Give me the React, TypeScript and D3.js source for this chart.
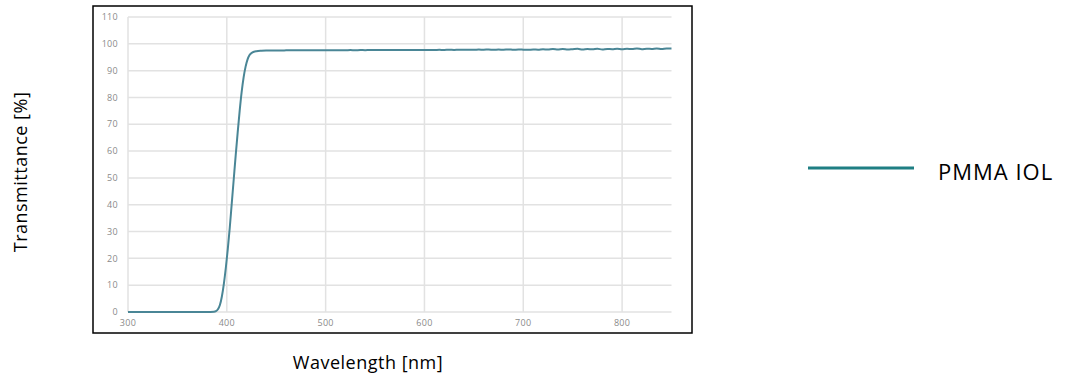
import * as d3 from 'd3'

// rise of the transmission edge (nm / %)
const riseNm = [300, 350, 380, 387, 389, 391, 393, 395, 397, 399, 401, 403, 405, 407, 409, 411, 413, 415, 417, 419, 421, 423, 426, 430, 435, 441, 450]
const riseT = [0, 0, 0, 0.1, 0.3, 1.0, 2.6, 5.8, 10.5, 16.5, 23.5, 31.5, 40.5, 49.5, 58.5, 67, 75, 82, 87.5, 91.5, 94.2, 95.8, 96.8, 97.25, 97.42, 97.5, 97.55]

// plateau sampled every 5 nm from 455 to 850
const plateauNm = d3.range(455, 851, 5)
const plateauT = [
  97.55, 97.56, 97.58, 97.57, 97.6, 97.58, 97.61, 97.6, 97.62, 97.6,
  97.63, 97.61, 97.64, 97.62, 97.65, 97.63, 97.66, 97.64, 97.67, 97.65,
  97.68, 97.66, 97.7, 97.67, 97.71, 97.69, 97.72, 97.7, 97.73, 97.71,
  97.74, 97.7, 97.76, 97.72, 97.78, 97.73, 97.8, 97.75, 97.82, 97.76,
  97.84, 97.78, 97.9, 97.76, 97.85, 97.8, 97.92, 97.78, 97.88, 97.82,
  97.75, 97.9, 97.8, 98.0, 97.85, 98.05, 97.9, 98.1, 97.88, 98.0,
  98.12, 97.9, 98.05, 97.95, 98.15, 97.9, 98.1, 98.0, 98.2, 97.95,
  98.12, 98.05, 98.25, 98.0, 98.18, 98.1, 98.3, 98.05, 98.28, 98.3,
]

const xTicks = [300, 400, 500, 600, 700, 800]
const yTicks = [0, 10, 20, 30, 40, 50, 60, 70, 80, 90, 100, 110]
const seriesName = 'PMMA IOL'

const font = "'Open Sans', 'Noto Sans', sans-serif"

export default function App() {
  const points: [number, number][] = [
    ...riseNm.map((n, i) => [n, riseT[i]] as [number, number]),
    ...plateauNm.map((n, i) => [n, plateauT[i]] as [number, number]),
  ]

  const x = d3.scaleLinear().domain([300, 850]).range([128, 671.5])
  const y = d3.scaleLinear().domain([0, 110]).range([312, 17])

  const line = d3
    .line<[number, number]>()
    .x((d) => x(d[0]))
    .y((d) => y(d[1]))
    .curve(d3.curveMonotoneX)

  return (
    <svg
      width={1067}
      height={375}
      style={{ position: 'absolute', left: 0, top: 0, background: '#fff' }}
    >
      <rect x={93} y={6} width={599} height={327} fill="#fff" stroke="#000" strokeWidth={1.5} />

      {/* grid */}
      {yTicks.map((t) => (
        <line key={`gy-${t}`} x1={x(300)} x2={x(850)} y1={y(t)} y2={y(t)} stroke="#e2e2e2" strokeWidth={1.5} />
      ))}
      {xTicks.map((t) => (
        <line key={`gx-${t}`} x1={x(t)} x2={x(t)} y1={y(110)} y2={y(0)} stroke="#e2e2e2" strokeWidth={1.5} />
      ))}

      {/* tick labels */}
      {yTicks.map((t) => (
        <text key={`ty-${t}`} x={118} y={y(t)} dy="0.35em" textAnchor="end" fontSize={9} letterSpacing={0.3} fill="#8a8a8a" fontFamily={font}>
          {t}
        </text>
      ))}
      {xTicks.map((t) => (
        <text key={`tx-${t}`} x={x(t)} y={326} textAnchor="middle" fontSize={9} letterSpacing={0.3} fill="#8a8a8a" fontFamily={font}>
          {t}
        </text>
      ))}

      <path d={line(points) || ''} fill="none" stroke="#4a8696" strokeWidth={2} />

      {/* axis titles */}
      <text x={368} y={369} textAnchor="middle" fontSize={18} letterSpacing={0.5} fill="#000" fontFamily={font}>
        Wavelength [nm]
      </text>
      <text transform="translate(27,172) rotate(-90)" textAnchor="middle" fontSize={18} letterSpacing={0.5} fill="#000" fontFamily={font}>
        Transmittance [%]
      </text>

      {/* legend */}
      <line x1={808} x2={914} y1={168} y2={168} stroke="#1f7f83" strokeWidth={3} />
      <text x={938} y={180} fontSize={22} letterSpacing={1} fill="#000" fontFamily={font}>
        {seriesName}
      </text>
    </svg>
  )
}
